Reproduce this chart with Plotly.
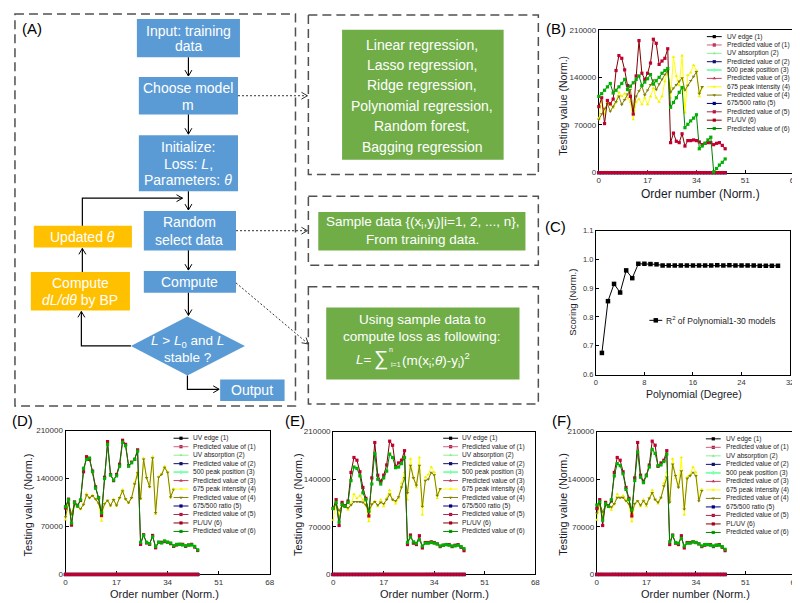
import plotly.graph_objects as go

FONT = "Liberation Sans, Arial, sans-serif"
W, H = 800, 603

# ---------------- data ----------------
# Panels B, D, E, F: x = order number
order_ticks = [0, 17, 34, 51, 68]
value_ticks = [0, 70000, 140000, 210000]
value_ticktext = ["0", "70000", "140000", "210000"]

# series whose values are near zero on this scale (UV edge, UV absorption,
# 500 peak position, 675/500 ratio and their predictions)
near_zero = [0, 0, 0, 0, 0, 0, 0, 0, 0, 0, 0, 0, 0, 0, 0, 0, 0, 0, 0, 0, 0, 0, 0,
             0, 0, 0, 0, 0, 0, 0, 0, 0, 0, 0, 0, 0, 0, 0, 0, 0, 0, 0, 0, 0, 0]

# testing data (same in all panels)
pl_uv_test = [97000, 110000, 72000, 106000, 101000, 108000, 150000, 172000, 168000, 151000,
              128000, 112000, 86000, 142000, 194000, 146000, 137000, 146000, 161000, 196000,
              190000, 159000, 164000, 168000, 182000, 44000, 58000, 46000, 44000, 57000,
              39000, 47000, 47000, 48000, 47000, 45000, 41000, 43000, 44000, 44000,
              41000, 43000, 44000, 40000, 35000]
peak675_test = [80000, 105000, 86000, 104000, 99000, 95000, 103000, 118000, 112000, 116000,
                110000, 104000, 78000, 104000, 108000, 100000, 110000, 100000, 112000, 124000,
                110000, 104000, 112000, 134000, 150000, 110000, 170000, 142000, 128000, 172000,
                88000, 143000, 147000, 158000, 150000, 112000, 125000]

# predictions, panel B
pred4_B = [78000, 86000, 94000, 101000, 90000, 97000, 104000, 112000, 100000, 107000,
           115000, 122000, 90000, 112000, 120000, 127000, 114000, 121000, 129000, 136000,
           122000, 130000, 137000, 144000, 150000, 118000, 124000, 129000, 134000, 139000,
           121000, 128000, 135000, 141000, 148000, 116000, 126000]
pred6_B = [112000, 116000, 121000, 126000, 131000, 117000, 121000, 126000, 131000, 137000,
           122000, 127000, 132000, 137000, 142000, 128000, 133000, 138000, 144000, 130000,
           135000, 140000, 146000, 150000, 153000, 96000, 103000, 110000, 118000, 125000,
           66000, 71000, 76000, 80000, 85000, 35000, 39000, 43000, 48000, 52000,
           1000, 6000, 11000, 15000, 20000]
# predictions, panel D
pred4_D = [84000, 104000, 88000, 103000, 99000, 96000, 102000, 116000, 112000, 115000,
           110000, 104000, 90000, 103000, 108000, 101000, 109000, 101000, 112000, 122000,
           110000, 105000, 112000, 132000, 148000, 111000, 168000, 141000, 128000, 170000,
           90000, 142000, 146000, 156000, 149000, 113000, 124000]
pred6_D = [99000, 109000, 75000, 105000, 100000, 109000, 155000, 168000, 170000, 150000,
           126000, 112000, 90000, 140000, 190000, 145000, 138000, 144000, 158000, 193000,
           188000, 158000, 163000, 168000, 180000, 47000, 57000, 47000, 45000, 55000,
           41000, 47000, 46000, 49000, 47000, 46000, 42000, 44000, 44000, 43000,
           42000, 43000, 43000, 41000, 36000]
# predictions, panel E
pred4_E = [97000, 103000, 94000, 101000, 100000, 98000, 102000, 107000, 107000, 107000,
           106000, 102000, 92000, 103000, 107000, 102000, 106000, 104000, 110000, 118000,
           110000, 108000, 114000, 128000, 142000, 120000, 160000, 142000, 131000, 160000,
           100000, 138000, 140000, 150000, 146000, 116000, 126000]
pred6_E = [97000, 106000, 77000, 103000, 100000, 106000, 138000, 158000, 156000, 145000,
           120000, 110000, 93000, 133000, 178000, 140000, 133000, 142000, 152000, 177000,
           172000, 157000, 158000, 163000, 172000, 47000, 55000, 48000, 46000, 51000,
           42000, 46000, 46000, 47000, 46000, 45000, 42000, 43000, 44000, 43000,
           42000, 42000, 43000, 41000, 38000]
# predictions, panel F
pred4_F = [90000, 104000, 92000, 102000, 101000, 99000, 104000, 113000, 113000, 113000,
           108000, 104000, 89000, 104000, 108000, 102000, 108000, 103000, 112000, 120000,
           110000, 106000, 113000, 130000, 143000, 106000, 162000, 145000, 128000, 152000,
           96000, 141000, 145000, 150000, 145000, 108000, 123000]
pred6_F = [102000, 107000, 80000, 104000, 100000, 110000, 145000, 163000, 160000, 148000,
           125000, 110000, 95000, 138000, 180000, 143000, 135000, 145000, 158000, 184000,
           178000, 160000, 161000, 166000, 177000, 48000, 57000, 47000, 46000, 53000,
           42000, 46000, 46000, 48000, 47000, 45000, 42000, 44000, 44000, 43000,
           42000, 43000, 43000, 41000, 37000]

# Panel C
poly_degree = [1, 2, 3, 4, 5, 6, 7, 8, 9, 10, 11, 12, 13, 14, 15, 16, 17, 18, 19, 20,
               21, 22, 23, 24, 25, 26, 27, 28, 29, 30]
r2_scores = [0.675, 0.855, 0.915, 0.885, 0.962, 0.935, 0.985, 0.985, 0.984, 0.983,
             0.979, 0.979, 0.979, 0.979, 0.979, 0.979, 0.979, 0.979, 0.979, 0.980,
             0.979, 0.980, 0.979, 0.979, 0.979, 0.979, 0.978, 0.978, 0.978, 0.978]
degree_ticks = [0, 8, 16, 24, 32]
score_ticks = [0.6, 0.7, 0.8, 0.9, 1.0, 1.1]
score_ticktext = ["0.6", "0.7", "0.8", "0.9", "1.0", "1.1"]

legend_names = ["UV edge (1)", "Predicted value of  (1)", "UV absorption (2)",
                "Predicted value of  (2)", "500 peak position (3)", "Predicted value of  (3)",
                "675 peak intensity (4)", "Predicted value of  (4)", "675/500 ratio (5)",
                "Predicted value of  (5)", "PL/UV (6)", "Predicted value of  (6)"]

# style per legend entry: line colour, marker colour, symbol, line width
styles = [
    ("#000000", "#000000", "square", 1),
    ("#d0607a", "#b01040", "square", 1),
    ("#90ee90", "#90ee90", "triangle-up", 1),
    ("#101070", "#101070", "square", 1),
    ("#80ffb0", "#80ffb0", "diamond", 2),
    ("#c04060", "#a01030", "triangle-up", 1),
    ("#ffff00", "#f0f000", "triangle-up", 1),
    ("#808000", "#808000", "triangle-down", 1),
    ("#000080", "#000080", "square", 1),
    ("#a03050", "#c00030", "square", 1),
    ("#800000", "#c00030", "square", 1),
    ("#008000", "#00b000", "square", 1),
]

fig = go.Figure()
shapes = []
annotations = []


def px_x(x):
    return x / W


def px_y(y):
    return 1 - y / H


# ---------------- axes ----------------
layout_axes = {}
panels = {
    # key: (x0, x1, y0, y1) in pixels
    "B": (594, 791, 18, 163, "", ""),
    "C": (591, 787, 222, 368, "2", "2"),
    "D": (56, 262, 425, 571, "3", "3"),
    "E": (326, 530, 426, 571, "4", "4"),
    "F": (592, 792, 426, 571, "5", "5"),
}
for key, (x0, x1, y0, y1, xs, ys) in panels.items():
    common = dict(showline=True, mirror=True, linecolor="black", linewidth=1,
                  ticks="inside", ticklen=3, tickcolor="black", showgrid=False,
                  zeroline=False, layer="below traces",
                  tickfont=dict(size=8 if key != "C" else 7.5, color="#333", family=FONT),
                  fixedrange=True)
    xa = dict(domain=[px_x(x0), px_x(x1)], anchor="y" + ys, **common)
    ya = dict(domain=[px_y(y1), px_y(y0)], anchor="x" + xs, **common)
    if key == "C":
        xa.update(range=[0, 32], tickvals=degree_ticks)
        ya.update(range=[0.6, 1.1], tickvals=score_ticks, ticktext=score_ticktext)
    else:
        xa.update(range=[0, 68], tickvals=order_ticks)
        ya.update(range=[0, 210000], tickvals=value_ticks, ticktext=value_ticktext)
    layout_axes["xaxis" + xs] = xa
    layout_axes["yaxis" + ys] = ya

# pixel overlay axis for diagram + legends
layout_axes["xaxis6"] = dict(domain=[0, 1], range=[0, W], visible=False, fixedrange=True, anchor="y6")
layout_axes["yaxis6"] = dict(domain=[0, 1], range=[H, 0], visible=False, fixedrange=True, anchor="x6")

MS = 3.2


# ---------------- data traces ----------------
def add_series(xs, ys, pred4, pred6):
    series = [near_zero, near_zero, near_zero, near_zero, near_zero, near_zero,
              peak675_test, pred4, near_zero, near_zero, pl_uv_test, pred6]
    for vals, (lc, mc, sym, lw) in zip(series, styles):
        fig.add_trace(go.Scatter(
            x=list(range(len(vals))), y=vals, mode="lines+markers",
            line=dict(color=lc, width=lw),
            marker=dict(color=mc, symbol=sym, size=MS, line=dict(width=0)),
            xaxis="x" + xs, yaxis="y" + ys, showlegend=False, cliponaxis=False,
            hoverinfo="skip"))


add_series("", "", pred4_B, pred6_B)
add_series("3", "3", pred4_D, pred6_D)
add_series("4", "4", pred4_E, pred6_E)
add_series("5", "5", pred4_F, pred6_F)

fig.add_trace(go.Scatter(x=poly_degree, y=r2_scores, mode="lines+markers",
                         line=dict(color="black", width=1),
                         marker=dict(color="black", symbol="square", size=4.5),
                         xaxis="x2", yaxis="y2", showlegend=False, cliponaxis=False))


# ---------------- helpers for pixel drawing ----------------
def rect(x0, y0, x1, y1, fill=None, dash=None, lc=None, lw=0):
    d = dict(type="rect", xref="x6", yref="y6", x0=x0, y0=y0, x1=x1, y1=y1, layer="above")
    if fill:
        d["fillcolor"] = fill
        d["line"] = dict(width=0)
    else:
        d["line"] = dict(color=lc, width=lw, dash=dash)
    shapes.append(d)


def text(x, y, s, size=14, color="white", anchor="center", angle=0):
    annotations.append(dict(xref="x6", yref="y6", x=x, y=y, text=s, showarrow=False,
                            font=dict(size=size, color=color, family=FONT),
                            xanchor=anchor, yanchor="middle", textangle=angle))


def arrow(pts, dash=None, color="black", width=1.2, head=6, hw=3.5):
    path = "M " + " L ".join(f"{x},{y}" for x, y in pts)
    line = dict(color=color, width=width)
    if dash:
        line["dash"] = dash
    shapes.append(dict(type="path", path=path, xref="x6", yref="y6", line=line, layer="above"))
    (xa, ya), (xb, yb) = pts[-2], pts[-1]
    dx, dy = xb - xa, yb - ya
    n = (dx * dx + dy * dy) ** 0.5
    ux, uy = dx / n, dy / n
    pxp, pyp = -uy, ux
    p1 = (xb - head * ux + hw * pxp, yb - head * uy + hw * pyp)
    p2 = (xb - head * ux - hw * pxp, yb - head * uy - hw * pyp)
    shapes.append(dict(type="path", xref="x6", yref="y6", layer="above",
                       path=f"M {p1[0]},{p1[1]} L {xb},{yb} L {p2[0]},{p2[1]}",
                       line=dict(color=color, width=1)))


BLUE = "#5b9bd5"
ORANGE = "#ffc000"
GREEN = "#70ad47"
DASH = "9px,5px"
DCOL = "#505050"

# dashed frames
rect(5, 2, 288, 400, dash=DASH, lc=DCOL, lw=1.5)
rect(301, 3, 533, 165, dash=DASH, lc=DCOL, lw=1.5)
rect(301, 187, 533, 257, dash=DASH, lc=DCOL, lw=1.5)
rect(301, 279, 533, 398, dash=DASH, lc=DCOL, lw=1.5)

# flowchart boxes
rect(128, 7, 232, 46, fill=BLUE)
rect(130, 66, 230, 104, fill=BLUE)
rect(130, 125, 230, 182, fill=BLUE)
rect(135, 202, 228, 242, fill=BLUE)
rect(135, 263, 228, 285, fill=BLUE)
rect(212, 373, 277, 395, fill=BLUE)
rect(24, 217, 123, 239, fill=ORANGE)
rect(21, 264, 121, 303, fill=ORANGE)
shapes.append(dict(type="path", xref="x6", yref="y6", layer="above",
                   path="M 122,339 L 179,309 L 237,339 L 179,369 Z",
                   fillcolor=BLUE, line=dict(width=0)))
# green boxes
rect(335, 18, 498, 150, fill=GREEN)
rect(311, 203, 520, 242, fill=GREEN)
rect(319, 300, 514, 373, fill=GREEN)

# arrows
arrow([(180, 46), (180, 65)])
arrow([(180, 104), (180, 124)])
arrow([(180, 182), (180, 201)])
arrow([(73, 217), (73, 189), (174, 189)])
arrow([(180, 242), (180, 262)])
arrow([(180, 285), (180, 308)])
arrow([(122, 339), (72, 339), (72, 304)])
arrow([(73, 264), (73, 240)])
arrow([(179, 369), (179, 383), (211, 383)])
arrow([(230, 85), (300, 85)], dash="2px,2px", color="#333", width=1)
arrow([(228, 222), (300, 222)], dash="2px,2px", color="#333", width=1)
arrow([(228, 275), (301, 337)], dash="2px,2px", color="#333", width=1)

# flowchart texts
text(180, 19, "Input: training")
text(180, 35, "data")
text(180, 77, "Choose model")
text(180, 94, "m")
text(180, 137, "Initialize:")
text(180, 154, "Loss: <i>L</i>,")
text(180, 171, "Parameters: <i>θ</i>")
text(181, 213, "Random")
text(181, 231, "select data")
text(181, 274, "Compute")
text(179, 334, "<i>L</i> > <i>L</i><sub>0</sub> and <i>L</i>", size=13.5)
text(179, 351, "stable ?", size=13.5)
text(244, 384, "Output")
text(73, 228, "Updated <i>θ</i>")
text(71, 275, "Compute")
text(71, 292, "<i>dL/dθ</i> by BP")

for i, s in enumerate(["Linear regression,", "Lasso regression,", "Ridge regression,",
                       "Polynomial regression,", "Random forest,", "Bagging regression"]):
    text(416, 33 + i * 20.8, s)
text(416, 214, "Sample data {(x<sub>i</sub>,y<sub>i</sub>)|i=1, 2, ..., n},", size=13.5)
text(416, 231, "From training data.", size=13.5)
text(416, 312, "Using sample data to", size=13.5)
text(416, 329, "compute loss as following:", size=13.5)
text(367, 353, "<i>L</i>=", anchor="right", size=13.5)
text(374, 352, "∑", size=20)
text(384, 343, "n", size=7)
text(389, 358, "i=1", size=7)
text(393, 353, "(m(x<sub>i</sub>;<i>θ</i>)-y<sub>i</sub>)<sup>2</sup>", anchor="left", size=13.5)

# panel labels
for lab, x, y in [("(A)", 22, 17), ("(B)", 551, 17), ("(C)", 550, 218),
                  ("(D)", 13, 415), ("(E)", 288, 415), ("(F)", 556, 415)]:
    text(x, y, lab, size=15, color="black")

# axis titles
TC = "#1a1a2a"
text(557, 95, "Testing value (Norm.)", size=10.5, color=TC, angle=-90)
text(697, 185, "Order number (Norm.)", size=12, color=TC)
text(568, 295, "Scoring (Norm.)", size=9.5, color=TC, angle=-90)
text(690, 388, "Polynomial (Degree)", size=10.5, color=TC)
for yx, xc in [(18, 156), (290, 428), (557, 692)]:
    text(yx, 500, "Testing value (Norm.)", size=10.8, color=TC, angle=-90)
    text(xc, 591, "Order number (Norm.)", size=11, color=TC)

# manual legends
legend_pos = [  # line x0, line x1, text x, first row y, row gap
    (703, 718, 721, 25, 8.48),
    (165, 180, 183, 432.7, 8.6),
    (437, 452, 454, 432.7, 8.6),
    (702, 717, 720, 433.3, 8.64),
]
marker_pts = [([], []) for _ in styles]
for lx0, lx1, tx, y0, gap in legend_pos:
    for i, (name, (lc, mc, sym, lw)) in enumerate(zip(legend_names, styles)):
        y = y0 + i * gap
        shapes.append(dict(type="line", xref="x6", yref="y6", x0=lx0, x1=lx1, y0=y, y1=y,
                           line=dict(color=lc, width=lw), layer="above"))
        marker_pts[i][0].append((lx0 + lx1) / 2)
        marker_pts[i][1].append(y)
        text(tx, y, name.replace("  ", " "), size=6.6, color="#222", anchor="left")
for (xs_, ys_), (lc, mc, sym, lw) in zip(marker_pts, styles):
    fig.add_trace(go.Scatter(x=xs_, y=ys_, mode="markers", xaxis="x6", yaxis="y6",
                             marker=dict(color=mc, symbol=sym, size=MS, line=dict(width=0)),
                             showlegend=False, hoverinfo="skip"))
# legend for C
shapes.append(dict(type="line", xref="x6", yref="y6", x0=645, x1=658, y0=313, y1=313,
                   line=dict(color="black", width=1), layer="above"))
fig.add_trace(go.Scatter(x=[651.5], y=[313], mode="markers", xaxis="x6", yaxis="y6",
                         marker=dict(color="black", symbol="square", size=4.5),
                         showlegend=False, hoverinfo="skip"))
text(660, 313, "R<sup>2</sup> of Polynomial1-30 models", size=8.5, color="#222", anchor="left")

fig.update_layout(width=W, height=H, margin=dict(l=0, r=0, t=0, b=0),
                  paper_bgcolor="white", plot_bgcolor="rgba(0,0,0,0)",
                  showlegend=False, shapes=shapes, annotations=annotations,
                  font=dict(family=FONT), **layout_axes)

fig.write_html("out.html")
